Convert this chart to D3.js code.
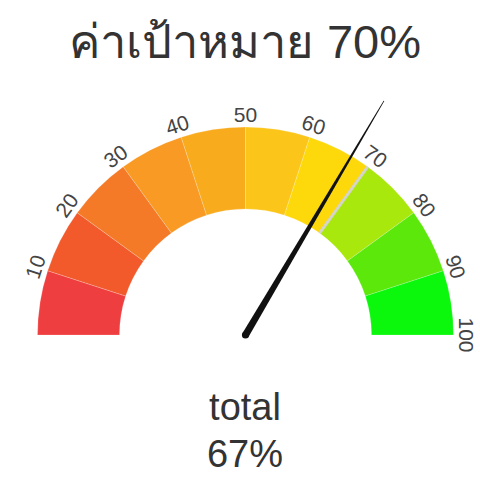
<!DOCTYPE html>
<html>
<head>
<meta charset="utf-8">
<script src="https://cdn.jsdelivr.net/npm/d3@7"></script>
<style>
  html, body { margin: 0; padding: 0; background: #fff; }
  svg { display: block; font-family: "Liberation Sans", Arial, sans-serif; }
</style>
</head>
<body>
<svg id="chart" width="480" height="481"></svg>
<script>
  // gauge data
  const titleText = 'ค่าเป้าหมาย 70%';
  const valueLabel = 'total';
  const bandEdges = [0, 10, 20, 30, 40, 50, 60, 70, 80, 90, 100];
  const bandColors = ['#ef3e3f', '#f25a2c', '#f57a28', '#f89a24', '#f9ab1e',
    '#fcc51a', '#fdd80a', '#a9e80c', '#5be80a', '#0bf70b'];
  const tickLabels = [10, 20, 30, 40, 50, 60, 70, 80, 90, 100];
  const targetValue = 70;
  const actualValue = 67;

  const svg = d3.select('#chart');
  const cx = 245.5, cy = 335;
  const outerR = 208, innerR = 126;

  const angle = d3.scaleLinear().domain([0, 100]).range([-Math.PI / 2, Math.PI / 2]);
  function pt(v, r) {
    const a = angle(v);
    return [cx + r * Math.sin(a), cy - r * Math.cos(a)];
  }

  svg.append('text')
    .attr('x', 245).attr('y', 58)
    .attr('text-anchor', 'middle')
    .attr('font-size', 47)
    .attr('fill', '#333')
    .text(titleText);

  const g = svg.append('g').attr('transform', 'translate(' + cx + ',' + cy + ')');
  const arc = d3.arc().innerRadius(innerR).outerRadius(outerR);

  const bands = bandColors.map(function (c, i) {
    return { from: bandEdges[i], to: bandEdges[i + 1], color: c };
  });
  g.selectAll('path.band')
    .data(bands)
    .join('path')
    .attr('class', 'band')
    .attr('fill', function (d) { return d.color; })
    .attr('stroke', 'rgba(255,255,255,0.35)')
    .attr('stroke-width', 0.6)
    .attr('d', function (d) {
      return arc({ startAngle: angle(d.from), endAngle: angle(d.to) });
    });

  // target marker
  const t0 = pt(targetValue, innerR), t1 = pt(targetValue, outerR);
  svg.append('line')
    .attr('x1', t0[0]).attr('y1', t0[1])
    .attr('x2', t1[0]).attr('y2', t1[1])
    .attr('stroke', '#d4d4c8')
    .attr('stroke-width', 3);

  // tick labels
  svg.append('g').selectAll('text')
    .data(tickLabels)
    .join('text')
    .attr('transform', function (d) {
      const p = pt(d, 221);
      return 'translate(' + p[0] + ',' + p[1] + ') rotate(' + (angle(d) * 180 / Math.PI) + ')';
    })
    .attr('text-anchor', 'middle')
    .attr('dominant-baseline', 'central')
    .attr('font-size', 21)
    .attr('fill', '#444')
    .text(function (d) { return d; });

  // needle
  const needleLen = 272;
  const a = angle(actualValue);
  const dx = Math.sin(a), dy = -Math.cos(a);
  const nx = -dy, ny = dx;
  const baseW = 3.6, tipW = 0.4;
  const needlePts = [
    [cx + nx * baseW, cy + ny * baseW],
    [cx + dx * needleLen + nx * tipW, cy + dy * needleLen + ny * tipW],
    [cx + dx * needleLen - nx * tipW, cy + dy * needleLen - ny * tipW],
    [cx - nx * baseW, cy - ny * baseW]
  ];
  svg.append('path')
    .attr('d', d3.line()(needlePts) + 'Z')
    .attr('fill', '#111');
  svg.append('circle')
    .attr('cx', cx).attr('cy', cy).attr('r', baseW)
    .attr('fill', '#111');

  svg.append('text')
    .attr('x', 245).attr('y', 420)
    .attr('text-anchor', 'middle')
    .attr('font-size', 38)
    .attr('fill', '#333')
    .text(valueLabel);
  svg.append('text')
    .attr('x', 245).attr('y', 467)
    .attr('text-anchor', 'middle')
    .attr('font-size', 38)
    .attr('fill', '#333')
    .text(actualValue + '%');
</script>
</body>
</html>
